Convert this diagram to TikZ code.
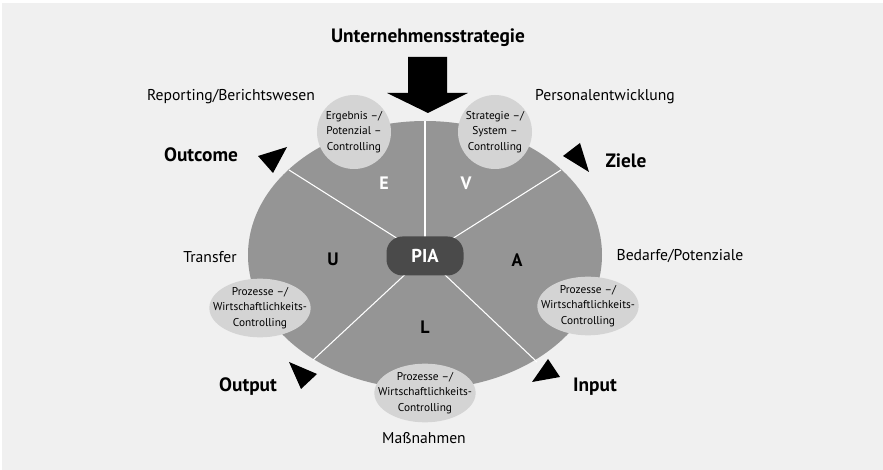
\documentclass[tikz,border=0pt]{standalone}
\usepackage{fontspec}
\setmainfont{PT Sans}
\usetikzlibrary{shapes.geometric}

\definecolor{bggray}{HTML}{F0F0F0}
\definecolor{ringgray}{HTML}{959595}
\definecolor{ctrlgray}{HTML}{D4D4D4}
\definecolor{piagray}{HTML}{4A4A4A}

\begin{document}
\begin{tikzpicture}[
    x = 0.75pt,
    y = -0.75pt,
    ctrl/.style = {
      fill = ctrlgray,
      circle,
      inner sep = 0pt,
      minimum size = 55.5pt,
      align = center,
      font = \fontsize{8.5}{11.6}\selectfont
    },
    ctrloval/.style = {
      fill = ctrlgray,
      ellipse,
      inner sep = 0pt,
      minimum width = 76pt,
      minimum height = 44pt
    },
    ctrltext/.style = {
      align = center,
      inner sep = 0pt,
      font = \fontsize{8.5}{11.6}\selectfont
    },
    lab/.style = {font = \fontsize{11.75}{13}\selectfont},
    key/.style = {font = \fontsize{14.5}{16}\selectfont\bfseries},
    letter/.style = {font = \fontsize{13.5}{15}\selectfont\bfseries}
  ]
  \useasboundingbox (0,0) rectangle (883,470);
  \fill[white] (0,0) rectangle (883,470);
  \fill[bggray] (2,3) rectangle (883,470);

  \coordinate (mid) at (425,256);
  \coordinate (endE) at (289,170);
  \coordinate (endV) at (561,170);
  \coordinate (endU) at (313,360);
  \coordinate (endA) at (537,362);
  \coordinate (endT) at (425,121);

  \scope[]
    \fill[ringgray] (425,255) ellipse [x radius=177, y radius=134];
    \draw[white, line width=0.8pt] (mid) -- (endT);
    \draw[white, line width=0.8pt] (mid) -- (endE);
    \draw[white, line width=0.8pt] (mid) -- (endV);
    \draw[white, line width=0.8pt] (mid) -- (endU);
    \draw[white, line width=0.8pt] (mid) -- (endA);
  \endscope

  % strategy arrow
  \fill[black] plot[] coordinates {(408,57) (447,57) (447,93) (468,93) (428,113) (387,93) (408,93)} -- cycle;

  % direction marks
  \fill[black] plot[] coordinates {(258,156) (287,147) (273,173)} -- cycle;
  \fill[black] plot[] coordinates {(563,156) (580,143) (589,172)} -- cycle;
  \fill[black] plot[] coordinates {(289,362) (317,374) (301,389)} -- cycle;
  \fill[black] plot[] coordinates {(532,382) (548,359) (560,377)} -- cycle;

  \node[fill=piagray, text=white, rounded corners=12pt, minimum width=57.75pt,
    minimum height=29.25pt, font=\fontsize{14}{16}\selectfont\bfseries] (pia) at (mid) {PIA};

  \node[letter, text=white] (E) at (384,183) {E};
  \node[letter, text=white] (V) at (466,183) {V};
  \node[letter] (U) at (333,259) {U};
  \node[letter] (A) at (517,260) {A};
  \node[letter] (L) at (425,327) {L};

  \node[ctrl] (ergebnis) at (354,132) {Ergebnis –/\\Potenzial –\\Controlling};
  \node[ctrl] (strategie) at (495,132) {Strategie –/\\System –\\Controlling};
  \node[ctrloval] (prozL) at (260,308) {};
  \node[ctrloval] (prozR) at (588,306) {};
  \node[ctrloval] (prozB) at (425,393) {};
  \node[ctrltext] (prozLtext) at (prozL) {Prozesse –/\\Wirtschaftlichkeits-\\Controlling};
  \node[ctrltext] (prozRtext) at (prozR) {Prozesse –/\\Wirtschaftlichkeits-\\Controlling};
  \node[ctrltext] (prozBtext) at (prozB) {Prozesse –/\\Wirtschaftlichkeits-\\Controlling};

  \node[key] (untern) at (428,38) {Unternehmensstrategie};
  \node[key] (outcome) at (201,155) {Outcome};
  \node[key] (ziele) at (626,161) {Ziele};
  \node[key] (output) at (248,387) {Output};
  \node[key] (input) at (595,387) {Input};

  \node[lab] (reporting) at (231,97) {Reporting/Berichtswesen};
  \node[lab] (personal) at (605,97) {Personalentwicklung};
  \node[lab] (transfer) at (210,257) {Transfer};
  \node[lab] (bedarfe) at (680,256) {Bedarfe/Potenziale};
  \node[lab] (massn) at (424,438) {Maßnahmen};
\end{tikzpicture}
\end{document}
